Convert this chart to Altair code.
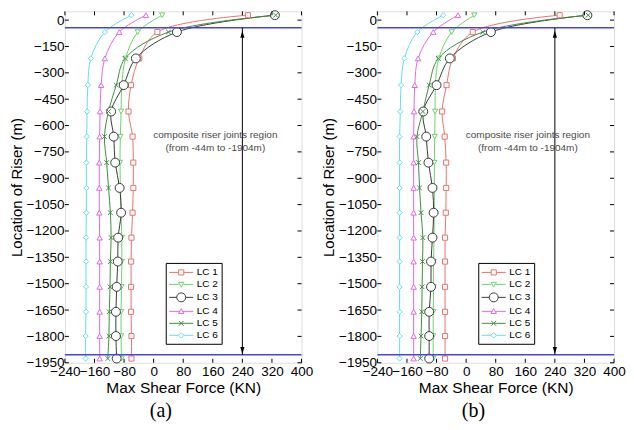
import altair as alt
import pandas as pd

# ---------------- data ----------------
depths = [28, -68, -218, -370, -520, -663, -811, -955, -1096, -1238, -1374, -1518, -1660, -1798, -1926]
series = ["LC 1", "LC 2", "LC 3", "LC 4", "LC 5", "LC 6"]

a_lc1 = [255, 10, -39, -61, -68, -57, -55, -55, -57, -60, -61, -61, -61, -60, -60]
a_lc2 = [23, -43, -76, -86, -88, -90, -91, -90, -88, -86, -86, -87, -88, -88, -87]
a_lc3 = [328, 63, -48, -81, -115, -108, -104, -92, -88, -96, -97, -100, -102, -102, -100]
a_lc4 = [-21, -93, -132, -142, -145, -146, -147, -147, -147, -146, -146, -146, -146, -146, -146]
a_lc5 = [330, 40, -77, -101, -122, -133, -127, -122, -117, -115, -117, -118, -120, -121, -124]
a_lc6 = [-60, -132, -170, -178, -180, -181, -182, -182, -182, -183, -183, -183, -183, -184, -184]

b_lc1 = [253, 18, -36, -53, -65, -58, -54, -54, -55, -57, -57, -57, -57, -57, -57]
b_lc2 = [22, -39, -74, -83, -84, -85, -86, -86, -86, -87, -88, -88, -89, -89, -89]
b_lc3 = [328, 67, -44, -80, -116, -108, -102, -91, -88, -91, -95, -95, -100, -100, -100]
b_lc4 = [-22, -89, -130, -139, -141, -142, -142, -142, -142, -142, -142, -142, -142, -142, -142]
b_lc5 = [330, 45, -75, -100, -117, -133, -129, -126, -122, -117, -118, -119, -120, -122, -124]
b_lc6 = [-62, -132, -167, -176, -178, -180, -180, -180, -180, -180, -180, -180, -180, -180, -180]

x_ticks = [-240, -160, -80, 0, 80, 160, 240, 320, 400]
y_ticks = [0, -150, -300, -450, -600, -750, -900, -1050, -1200, -1350, -1500, -1650, -1800, -1950]
blue_lines = [-44, -1904]
arrow_x = 240
arrow_heads_up = [-80]
arrow_heads_down = [-1880]
note_lines = ["composite riser joints region", "(from -44m to -1904m)"]
note_y = [-652, -725]
note_x = 167

colors = ["#e8736f", "#6bd46b", "#3a3a3a", "#e06ae0", "#3f8f3f", "#62dfe8"]

# point symbols for data markers
X_PATH = "M-1,-1L1,1M-1,1L1,-1"
point_shapes = ["square", "triangle-down", "circle", "triangle-up", X_PATH, "diamond"]
point_sizes = [26, 28, 80, 30, 22, 28]

# legend symbols: line - marker - line (marker centred at x=1, line from -1 to 3)
legend_paths = [
    "M-1,0H0.57M1.43,0H3" + "M0.57,-0.43H1.43V0.43H0.57Z",
    "M-1,0H0.6M1.4,0H3" + "M0.55,-0.35L1.45,-0.35L1,0.45Z",
    "M-1,0H0.25M1.75,0H3" + "M0.25,0A0.75,0.75 0 1,1 1.75,0A0.75,0.75 0 1,1 0.25,0Z",
    "M-1,0H0.75M1.25,0H3" + "M1,-0.45L1.45,0.35L0.55,0.35Z",
    "M-1,0H3" + "M0.6,-0.4L1.4,0.4M0.6,0.4L1.4,-0.4",
    "M-1,0H0.55M1.45,0H3" + "M1,-0.45L1.45,0L1,0.45L0.55,0Z",
]

panels = {
    "a": [a_lc1, a_lc2, a_lc3, a_lc4, a_lc5, a_lc6],
    "b": [b_lc1, b_lc2, b_lc3, b_lc4, b_lc5, b_lc6],
}

rows = []
for p, vals in panels.items():
    for s, v in zip(series, vals):
        for i, (d, f) in enumerate(zip(depths, v)):
            rows.append({"panel": p, "series": s, "idx": i, "depth": d, "force": f})
df = pd.DataFrame(rows)

W, H = 237, 352
FONT = "Liberation Sans"

xs = alt.Scale(domain=[-240, 400], nice=False, zero=False)
ys = alt.Scale(domain=[-1950, 50], nice=False, zero=False)
xaxis = alt.Axis(values=x_ticks, format="d", title="Max Shear Force (KN)", ticks=False, grid=False,
                 domain=False, labelPadding=2, labelFlush=False, labelOverlap=False, labelFontSize=13.5,
                 titleFontSize=15.5, titleFontWeight="normal", titlePadding=2,
                 labelFont=FONT, titleFont=FONT, labelColor="black", titleColor="black")
yaxis = alt.Axis(values=y_ticks, format="d", title="Location of Riser (m)", ticks=False, grid=False,
                 domain=False, labelPadding=1, labelFlush=False, labelOverlap=False, labelFontSize=13.5,
                 titleFontSize=15, titleFontWeight="normal", titlePadding=2,
                 labelFont=FONT, titleFont=FONT, labelColor="black", titleColor="black")


def X(field):
    return alt.X(field, type="quantitative", scale=xs, axis=xaxis)


def Y(field):
    return alt.Y(field, type="quantitative", scale=ys, axis=yaxis)


color_scale = alt.Scale(domain=series, range=colors)


def panel(key, caption):
    base = alt.Chart(df[df.panel == key])
    layers = []
    for s, c in zip(series, colors):
        layers.append(
            base.transform_filter(alt.datum.series == s)
            .mark_line(strokeWidth=1, interpolate="catmull-rom", color=c, clip=True)
            .encode(x=X("force"), y=Y("depth"), order=alt.Order("idx:Q"))
        )
    for s, c, shp, sz in zip(series, colors, point_shapes, point_sizes):
        layers.append(
            base.transform_filter(alt.datum.series == s).mark_point(
                shape=shp, size=sz, stroke=c, fill="white", strokeWidth=1, opacity=1, filled=False
            ).encode(x=X("force"), y=Y("depth"))
        )
    # legend layer (no marks drawn, explicit domains)
    leg = alt.Legend(title=None, orient="none", legendX=101, legendY=252, strokeColor="black",
                     padding=3, labelFontSize=10, labelFont=FONT, labelColor="black",
                     symbolSize=144, symbolStrokeWidth=1, symbolFillColor="white",
                     rowPadding=0, labelOffset=15)
    layers.append(
        base.transform_filter("false").mark_point(fill="white", strokeWidth=1, opacity=1, filled=False).encode(
            x=X("force"), y=Y("depth"),
            color=alt.Color("series:N", scale=color_scale, legend=leg),
            shape=alt.Shape("series:N", scale=alt.Scale(domain=series, range=legend_paths), legend=leg),
        )
    )
    # blue boundary lines
    layers.append(
        alt.Chart(pd.DataFrame({"y": blue_lines})).mark_rule(color="#4646dc", strokeWidth=1.5).encode(
            y=Y("y"))
    )
    # arrow
    layers.append(
        alt.Chart(pd.DataFrame({"x": [arrow_x], "y": [blue_lines[0]], "y2": [blue_lines[1]]}))
        .mark_rule(color="black", strokeWidth=1)
        .encode(x=X("x"), y=Y("y"), y2="y2:Q")
    )
    layers.append(
        alt.Chart(pd.DataFrame({"x": [arrow_x] * len(arrow_heads_up), "y": arrow_heads_up}))
        .mark_point(shape="M0,-1L0.6,1L-0.6,1Z", size=49, filled=True, color="black", opacity=1)
        .encode(x=X("x"), y=Y("y"))
    )
    layers.append(
        alt.Chart(pd.DataFrame({"x": [arrow_x] * len(arrow_heads_down), "y": arrow_heads_down}))
        .mark_point(shape="M0,1L0.6,-1L-0.6,-1Z", size=49, filled=True, color="black", opacity=1)
        .encode(x=X("x"), y=Y("y"))
    )
    # annotation text
    layers.append(
        alt.Chart(pd.DataFrame({"x": [note_x] * 2, "y": note_y, "t": note_lines}))
        .mark_text(fontSize=10, font=FONT, color="#4a4a4a")
        .encode(x=X("x"), y=Y("y"), text="t:N")
    )
    # inward ticks on all four sides
    xt = alt.Chart(pd.DataFrame({"v": x_ticks}))
    yt = alt.Chart(pd.DataFrame({"v": y_ticks}))
    layers.append(xt.mark_rule(color="black").encode(x=X("v"), y=alt.value(H), y2=alt.value(H - 4)))
    layers.append(xt.mark_rule(color="black").encode(x=X("v"), y=alt.value(0), y2=alt.value(4)))
    layers.append(yt.mark_rule(color="black").encode(y=Y("v"), x=alt.value(0), x2=alt.value(4)))
    layers.append(yt.mark_rule(color="black").encode(y=Y("v"), x=alt.value(W), x2=alt.value(W - 4)))

    return alt.layer(*layers).properties(
        width=W, height=H,
        title=alt.TitleParams(caption, orient="bottom", anchor="middle", frame="bounds",
                              font="Liberation Serif", fontSize=20, fontWeight="normal",
                              color="black", offset=5),
    )


chart = alt.hconcat(panel("a", "(a)"), panel("b", "(b)"), spacing=7).resolve_scale(
    color="independent", shape="independent"
).resolve_legend(color="independent", shape="independent").properties(
    padding={"left": 0, "top": -1, "right": 0, "bottom": 0}
).configure_view(stroke="black", strokeWidth=1).configure(background="white")

chart.save("out.html", embed_options={"renderer": "svg", "actions": False})
